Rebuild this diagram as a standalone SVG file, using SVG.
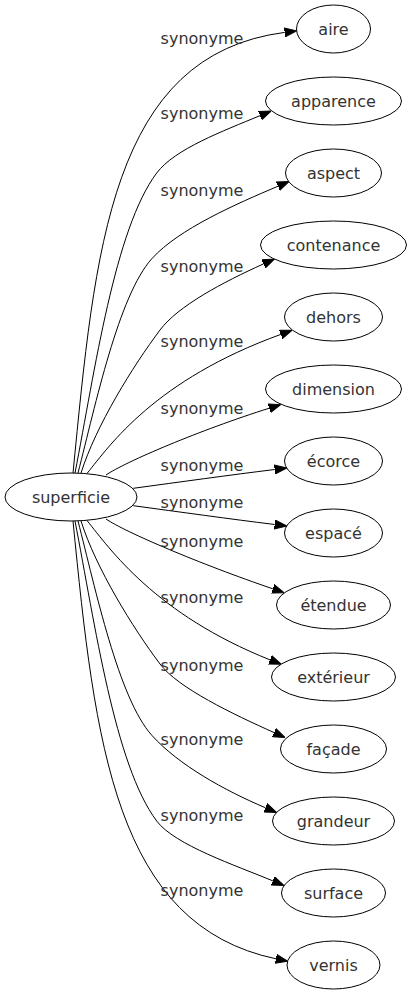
<svg xmlns="http://www.w3.org/2000/svg" width="412" height="995" viewBox="0 0 412 995">
<style>
.node ellipse{fill:#fff;stroke:#000;stroke-width:1}
.node text{font-family:"DejaVu Sans",Verdana,sans-serif;font-size:16px;fill:#333;text-anchor:middle}
.edges path{fill:none;stroke:#000;stroke-width:1;marker-end:url(#arr)}
.edges text{font-family:"DejaVu Sans",Verdana,sans-serif;font-size:16px;fill:#333;text-anchor:middle}
</style>
<defs>
<marker id="arr" markerUnits="userSpaceOnUse" markerWidth="12" markerHeight="10" refX="0" refY="5" orient="auto" viewBox="0 0 12 10">
<path d="M0,0.5 L12,5 L0,9.5 z" fill="#000" stroke="#000" stroke-width="1"/>
</marker>
</defs>
<rect width="412" height="995" fill="#fff"/>
<g id="connectors" class="edges">
<path d="M73,473 C95,250 110,55 284.7,32.4"/>
<path d="M75,473 C95,370 114.7,229 156.7,173 C174.7,149 223.2,131 260.1,115.6"/>
<path d="M78,473 C95.5,405 118.5,295.5 152,258.5 C178.8,228.9 236.6,203.8 278,186.2"/>
<path d="M81,473 C96,425.5 133,366 160,330 C178,306 222.5,282.4 263.5,263.9"/>
<path d="M87,473.5 C110,445 155,380 280.8,334.4"/>
<path d="M106,475 C125,462 200,430 269.3,408.2"/>
<path d="M133.3,488.3 C180,482 230,475 274.7,469.5"/>
<path d="M133.3,505.7 C180,512 230,519 274.7,524.5"/>
<path d="M106,519 C125,532 200,564 272.8,588.8"/>
<path d="M87,520.5 C110,549 155,614 270.1,659.9"/>
<path d="M81,521 C96,568.5 133,628 160,664 C178,688 233.1,714.2 274.1,732.6"/>
<path d="M78,521 C95.5,589 118.5,698.5 152,735.5 C178.8,765.1 224.1,790.2 265.5,807.8"/>
<path d="M75,521 C95,624 114.7,765 156.7,821 C174.7,845 236,865.5 272.9,880.9"/>
<path d="M73,521 C95,744 115,925 276,958.8"/>
<text x="202" y="43.5">synonyme</text>
<text x="202" y="118.5">synonyme</text>
<text x="202" y="195.5">synonyme</text>
<text x="202" y="272">synonyme</text>
<text x="202" y="347">synonyme</text>
<text x="202" y="413.5">synonyme</text>
<text x="202" y="471">synonyme</text>
<text x="202" y="508">synonyme</text>
<text x="202" y="547">synonyme</text>
<text x="202" y="603">synonyme</text>
<text x="202" y="671">synonyme</text>
<text x="202" y="745">synonyme</text>
<text x="202" y="820.5">synonyme</text>
<text x="202" y="895.5">synonyme</text>
</g>
<g id="n-superficie" class="node"><ellipse cx="71" cy="497" rx="66" ry="24"/><text x="71" y="502.5">superficie</text></g>
<g id="n-aire" class="node"><ellipse cx="333.5" cy="29" rx="37" ry="24"/><text x="333.5" y="34.5">aire</text></g>
<g id="n-apparence" class="node"><ellipse cx="333.5" cy="101" rx="68" ry="24"/><text x="333.5" y="106.5">apparence</text></g>
<g id="n-aspect" class="node"><ellipse cx="333.5" cy="173" rx="48" ry="24"/><text x="333.5" y="178.5">aspect</text></g>
<g id="n-contenance" class="node"><ellipse cx="333.5" cy="245" rx="73" ry="24"/><text x="333.5" y="250.5">contenance</text></g>
<g id="n-dehors" class="node"><ellipse cx="333.5" cy="317" rx="49" ry="24"/><text x="333.5" y="322.5">dehors</text></g>
<g id="n-dimension" class="node"><ellipse cx="333.5" cy="389" rx="68" ry="24"/><text x="333.5" y="394.5">dimension</text></g>
<g id="n-ecorce" class="node"><ellipse cx="333.5" cy="461" rx="49" ry="24"/><text x="333.5" y="466.5">écorce</text></g>
<g id="n-espace" class="node"><ellipse cx="333.5" cy="533" rx="49" ry="24"/><text x="333.5" y="538.5">espacé</text></g>
<g id="n-etendue" class="node"><ellipse cx="333.5" cy="605" rx="57" ry="24"/><text x="333.5" y="610.5">étendue</text></g>
<g id="n-exterieur" class="node"><ellipse cx="333.5" cy="677" rx="62" ry="24"/><text x="333.5" y="682.5">extérieur</text></g>
<g id="n-facade" class="node"><ellipse cx="333.5" cy="749" rx="53" ry="24"/><text x="333.5" y="754.5">façade</text></g>
<g id="n-grandeur" class="node"><ellipse cx="333.5" cy="821" rx="61" ry="24"/><text x="333.5" y="826.5">grandeur</text></g>
<g id="n-surface" class="node"><ellipse cx="333.5" cy="893" rx="52" ry="24"/><text x="333.5" y="898.5">surface</text></g>
<g id="n-vernis" class="node"><ellipse cx="333.5" cy="965" rx="46.5" ry="24"/><text x="333.5" y="970.5">vernis</text></g>
</svg>
